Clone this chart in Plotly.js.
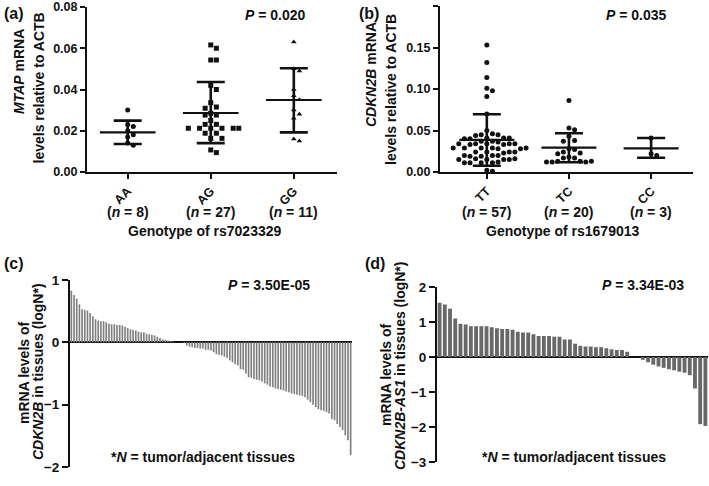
<!DOCTYPE html>
<html>
<head>
<meta charset="utf-8">
<script src="https://cdn.plot.ly/plotly-3.0.1.min.js"></script>
<style>html,body{margin:0;padding:0;background:#fff}#chart{width:709px;height:486px}</style>
</head>
<body>
<div id="chart"></div>
<script>
// (a) MTAP mRNA by rs7023329 genotype
const genotypesA = ["AA", "AG", "GG"];
const countsA = [8, 27, 11];
const mtapAA = [0.030, 0.023, 0.022, 0.020, 0.018, 0.017, 0.014, 0.013];
const mtapAG = [0.0616, 0.0600, 0.0543, 0.0543, 0.042, 0.040, 0.0336, 0.0315, 0.0309, 0.0285,
    0.0276, 0.0276, 0.025, 0.0231, 0.0231, 0.0212, 0.0212, 0.0212, 0.0212, 0.0212, 0.0212,
    0.0188, 0.0188, 0.0163, 0.0163, 0.0107, 0.0094];
const mtapGG = [0.063, 0.050, 0.049, 0.040, 0.037, 0.035, 0.030, 0.028, 0.026, 0.016, 0.015];
const meanA = [0.0192, 0.0286, 0.0349];
const sdHighA = [0.0249, 0.0436, 0.0503];
const sdLowA = [0.0136, 0.0140, 0.0192];

// (b) CDKN2B mRNA by rs1679013 genotype
const genotypesB = ["TT", "TC", "CC"];
const countsB = [57, 20, 3];
const cdkTT = [0.153, 0.132, 0.114, 0.101, 0.098, 0.091, 0.070, 0.050,
    0.046, 0.045, 0.045, 0.044, 0.041, 0.041, 0.040, 0.041, 0.040,
    0.037, 0.037, 0.036, 0.034, 0.034, 0.033, 0.034, 0.033, 0.034, 0.034,
    0.029, 0.029, 0.028, 0.029, 0.028, 0.029, 0.029,
    0.024, 0.024, 0.023, 0.024, 0.024,
    0.020, 0.019, 0.020, 0.019, 0.020,
    0.015, 0.016, 0.015, 0.015, 0.016, 0.015,
    0.011, 0.011, 0.012, 0.011, 0.011, 0.002, 0.001];
const cdkTC = [0.086, 0.053, 0.051, 0.043, 0.038, 0.037, 0.028, 0.027, 0.024, 0.023,
    0.022, 0.018, 0.017, 0.017, 0.013, 0.013, 0.013, 0.012, 0.012, 0.012];
const cdkCC = [0.041, 0.022, 0.020];
const meanB = [0.0386, 0.0293, 0.0285];
const sdHighB = [0.0695, 0.0466, 0.0410];
const sdLowB = [0.0076, 0.0117, 0.0172];

// (c) CDKN2B tumor/adjacent, log ratio per patient
const cdkn2bLogN = [0.83, 0.76, 0.70, 0.61, 0.53, 0.52, 0.51, 0.47, 0.42, 0.37,
    0.35, 0.34, 0.34, 0.32, 0.30, 0.29, 0.29, 0.28, 0.28, 0.27,
    0.25, 0.23, 0.21, 0.20, 0.19, 0.17, 0.16, 0.16, 0.14, 0.13,
    0.12, 0.11, 0.09, 0.07, 0.05, 0.04, 0.03, 0.02, 0.01,
    0, 0, 0, -0.01,
    -0.05, -0.07, -0.08, -0.09, -0.09, -0.10, -0.10, -0.12, -0.12, -0.13,
    -0.16, -0.19, -0.20, -0.21, -0.23, -0.25, -0.29, -0.32, -0.35, -0.37,
    -0.43, -0.44, -0.50, -0.56, -0.57, -0.59, -0.60, -0.61, -0.63, -0.66,
    -0.68, -0.71, -0.72, -0.74, -0.75, -0.76, -0.77, -0.79, -0.80, -0.82,
    -0.83, -0.84, -0.85, -0.86, -0.88, -0.92, -0.96, -1.00, -1.04, -1.07,
    -1.09, -1.10, -1.12, -1.14, -1.23, -1.25, -1.31, -1.36, -1.41, -1.49,
    -1.57, -1.81];

// (d) CDKN2B-AS1 tumor/adjacent
const as1LogN = [1.55, 1.50, 1.38, 1.10, 0.95, 0.93, 0.88, 0.88, 0.88, 0.88,
    0.85, 0.82, 0.80, 0.80, 0.78, 0.72, 0.70, 0.70, 0.65, 0.60,
    0.60, 0.60, 0.58, 0.58, 0.50, 0.50, 0.38, 0.32, 0.30, 0.30,
    0.28, 0.28, 0.25, 0.22, 0.20, 0.20, 0.15, 0, 0,
    -0.08, -0.15, -0.22, -0.27, -0.31, -0.35, -0.38, -0.42, -0.45, -0.52,
    -0.90, -1.92, -1.97];

const FONT = "Liberation Sans, Arial, sans-serif";
const W = 709, H = 486;
const px = (x) => x / W;
const py = (y) => 1 - y / H;

// simple beeswarm: push a point sideways until it clears the ones already placed
const swarm = (values, center, pxPerX, pxPerY, diam) => {
    const placed = [];
    return values.map((v) => {
        const yPx = v * pxPerY;
        for (let k = 0; ; k++) {
            const off = (k % 2 ? 1 : -1) * Math.ceil(k / 2) * diam;
            const hit = placed.some(p => Math.hypot(p[0] - off, p[1] - yPx) < diam);
            if (!hit) {
                placed.push([off, yPx]);
                return center + off / pxPerX;
            }
        }
    });
};

const dot_plot_traces = (groups, symbols, means, highs, lows, xa, ya, pxPerX, pxPerY) => {
    const traces = groups.map((vals, i) => ({
        type: "scatter", mode: "markers", xaxis: xa, yaxis: ya,
        x: swarm(vals, i, pxPerX, pxPerY, 5.6), y: vals,
        marker: {symbol: symbols[i], size: 5, color: "#111"},
        cliponaxis: false, hoverinfo: "y",
    }));
    const idx = means.map((_, i) => i);
    traces.push({
        type: "scatter", mode: "markers", xaxis: xa, yaxis: ya,
        x: idx, y: means,
        marker: {size: 1, color: "rgba(0,0,0,0)"},
        error_y: {
            type: "data", symmetric: false,
            array: highs.map((h, i) => h - means[i]),
            arrayminus: lows.map((l, i) => means[i] - l),
            color: "#111", thickness: 2.6, width: 14,
        },
        cliponaxis: false,
    });
    const mx = [], my = [];
    means.forEach((m, i) => { mx.push(i - 0.335, i + 0.335, null); my.push(m, m, null); });
    traces.push({
        type: "scatter", mode: "lines", xaxis: xa, yaxis: ya,
        x: mx, y: my, line: {color: "#111", width: 2.2}, cliponaxis: false,
    });
    return traces;
};

const data = [
    ...dot_plot_traces([mtapAA, mtapAG, mtapGG], ["circle", "square", "triangle-up"],
        meanA, sdHighA, sdLowA, "x", "y", 83, 165 / 0.08),
    ...dot_plot_traces([cdkTT, cdkTC, cdkCC], ["circle", "circle", "circle"],
        meanB, sdHighB, sdLowB, "x2", "y2", 82, 166 / 0.2),
    {
        type: "bar", xaxis: "x3", yaxis: "y3",
        x: cdkn2bLogN.map((_, i) => i), y: cdkn2bLogN, width: 0.62,
        marker: {color: "#808080", line: {width: 0}},
    },
    {
        type: "bar", xaxis: "x4", yaxis: "y4",
        x: as1LogN.map((_, i) => i), y: as1LogN, width: 0.74,
        marker: {color: "#686868", line: {width: 0}},
    },
];

const tickFont = {family: FONT, size: 12.5, color: "#111", weight: "bold"};
const yBase = {
    showline: true, linewidth: 2, linecolor: "#111", ticks: "outside", ticklen: 5,
    tickwidth: 2, tickcolor: "#111", showgrid: false, zeroline: false,
    tickfont: tickFont, fixedrange: true,
};
const xCat = {
    showline: true, linewidth: 2, linecolor: "#111", ticks: "outside", ticklen: 5,
    tickwidth: 2, tickcolor: "#111", showgrid: false, zeroline: false,
    tickvals: [0, 1, 2], tickangle: -45,
    tickfont: {family: FONT, size: 12.5, color: "#111", weight: "bold"},
};
const xBar = {showline: false, showgrid: false, zeroline: false, showticklabels: false, ticks: ""};
const yBar = Object.assign({}, yBase, {
    zeroline: true, zerolinecolor: "#111", zerolinewidth: 2, tickfont: Object.assign({}, tickFont, {size: 13.5}),
    ticklen: 6,
});

const layout = {
    width: W, height: H,
    margin: {l: 0, r: 0, t: 0, b: 0},
    paper_bgcolor: "#fff", plot_bgcolor: "rgba(0,0,0,0)",
    showlegend: false,
    font: {family: FONT, color: "#111"},
    xaxis: Object.assign({}, xCat, {domain: [px(87), px(337)], range: [-0.49, 2.52], anchor: "y", ticktext: genotypesA}),
    yaxis: Object.assign({}, yBase, {domain: [py(172), py(7)], range: [0, 0.08], dtick: 0.02, tickformat: ".2f", anchor: "x"}),
    xaxis2: Object.assign({}, xCat, {domain: [px(440), px(693)], range: [-0.57, 2.51], anchor: "y2", ticktext: genotypesB}),
    yaxis2: Object.assign({}, yBase, {domain: [py(172), py(6)], range: [0, 0.2], dtick: 0.05, tickformat: ".2f", anchor: "x2"}),
    xaxis3: Object.assign({}, xBar, {domain: [px(70), px(352)], range: [-0.5, cdkn2bLogN.length - 0.5], anchor: "y3"}),
    yaxis3: Object.assign({}, yBar, {domain: [py(467), py(280)], range: [-2, 1], dtick: 1, anchor: "x3"}),
    xaxis4: Object.assign({}, xBar, {domain: [px(437), px(708)], range: [-0.5, as1LogN.length - 0.5], anchor: "y4"}),
    yaxis4: Object.assign({}, yBar, {domain: [py(462), py(287)], range: [-3, 2], dtick: 1, anchor: "x4"}),
    annotations: [],
};

const note = (text, x, y, opts) => Object.assign({
    text: "<b>" + text + "</b>", x: px(x), y: py(y), xref: "paper", yref: "paper",
    showarrow: false, xanchor: "center", yanchor: "middle",
    font: {family: FONT, size: 14, color: "#111"},
}, opts || {});

const ann = layout.annotations;
const panelFont = {family: FONT, size: 16, color: "#111"};
ann.push(note("(a)", 2, 13, {xanchor: "left", font: panelFont}));
ann.push(note("(b)", 357, 13, {xanchor: "left", font: panelFont}));
ann.push(note("(c)", 2, 263, {xanchor: "left", font: panelFont}));
ann.push(note("(d)", 363, 263, {xanchor: "left", font: panelFont}));

// y titles, one annotation per line
ann.push(note("<i>MTAP</i> mRNA", 19, 72, {textangle: -90}));
ann.push(note("levels relative to ACTB", 38.5, 88, {textangle: -90}));
ann.push(note("<i>CDKN2B</i> mRNA", 371, 75, {textangle: -90}));
ann.push(note("levels relative to ACTB", 391, 90, {textangle: -90}));
ann.push(note("mRNA levels of", 24, 373, {textangle: -90}));
ann.push(note("<i>CDKN2B</i> in tissues (logN*)", 38, 372, {textangle: -90}));
ann.push(note("mRNA levels of", 386, 375, {textangle: -90}));
ann.push(note("<i>CDKN2B-AS1</i> in tissues (logN*)", 400, 366, {textangle: -90}));

ann.push(note("<i>P</i> = 0.020", 275, 15));
ann.push(note("<i>P</i> = 0.035", 636, 15));
ann.push(note("<i>P</i> = 3.50E-05", 269, 285));
ann.push(note("<i>P</i> = 3.34E-03", 643, 285));

ann.push(note("*<i>N</i> = tumor/adjacent tissues", 203, 457));
ann.push(note("*<i>N</i> = tumor/adjacent tissues", 574, 457));

ann.push(note("Genotype of rs7023329", 205, 231));
ann.push(note("Genotype of rs1679013", 563, 231));

// sample sizes under the rotated genotype tick labels
const countLabels = (counts, xa, yCount) => {
    counts.forEach((n, i) => {
        ann.push(note("(<i>n</i> = " + n + ")", 0, yCount, {xref: xa, x: i}));
    });
};
countLabels(countsA, "x", 212);
countLabels(countsB, "x2", 212);

Plotly.newPlot("chart", data, layout, {staticPlot: true});
</script>
</body>
</html>
